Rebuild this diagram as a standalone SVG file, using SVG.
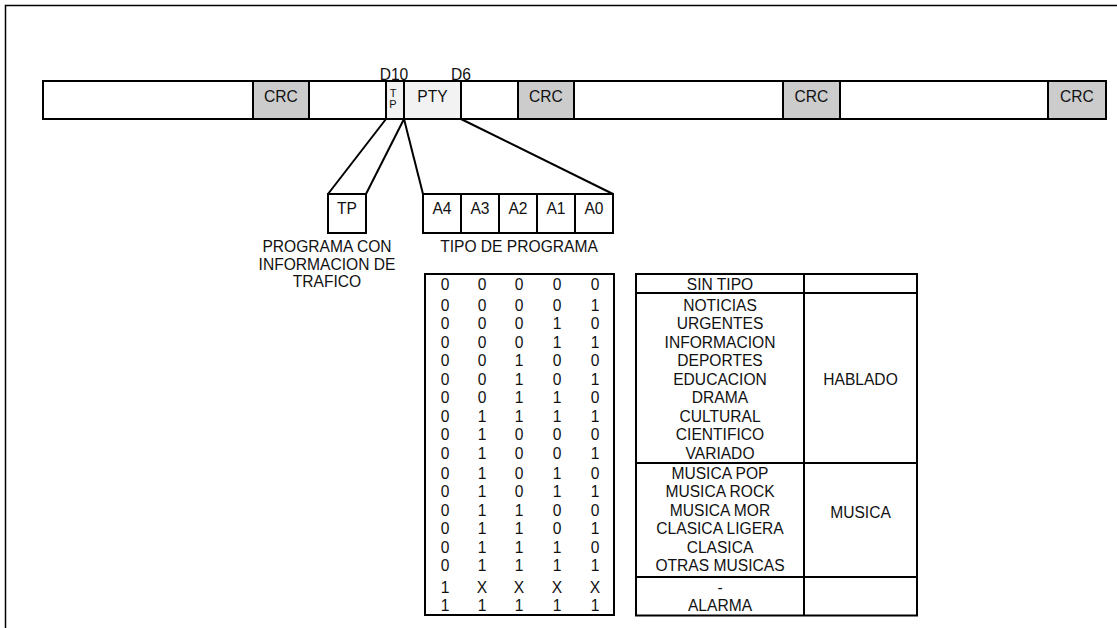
<svg xmlns="http://www.w3.org/2000/svg" width="1117" height="628" viewBox="0 0 1117 628">
<style>
text{font-family:"Liberation Sans",Arial,sans-serif;font-size:15.6px;fill:#111;text-anchor:middle}
.sm{font-size:11px}
.box{fill:#fff;stroke:#000;stroke-width:2}
.crc{fill:#cccccc;stroke:#000;stroke-width:2}
.lt{fill:#f2f2f2;stroke:#000;stroke-width:2}
.ln{stroke:#000;stroke-width:2;fill:none}
</style>
<rect x="0" y="0" width="1117" height="628" fill="#fff"/>
<g id="frame"><rect x="5.5" y="5.5" width="1200" height="700" fill="none" stroke="#000" stroke-width="1.5"/></g>
<g id="bar">
<rect class="box" x="43" y="81" width="1063" height="38"/>
<rect class="crc" x="253" y="81" width="56" height="38"/>
<rect class="lt" x="386" y="81" width="18" height="38"/>
<rect class="lt" x="404" y="81" width="57" height="38"/>
<rect class="crc" x="518" y="81" width="56" height="38"/>
<rect class="crc" x="783" y="81" width="57" height="38"/>
<rect class="crc" x="1048" y="81" width="58" height="38"/>
<text x="281" y="101.5">CRC</text>
<text x="546" y="101.5">CRC</text>
<text x="811.5" y="101.5">CRC</text>
<text x="1077" y="101.5">CRC</text>
<text x="432.5" y="101.5">PTY</text>
<text class="sm" x="393" y="96.5">T</text>
<text class="sm" x="393" y="107.5">P</text>
<text x="394" y="80">D10</text>
<text x="461" y="80">D6</text>
</g>
<g id="connectors">
<line class="ln" x1="386" y1="119" x2="328" y2="194"/>
<line class="ln" x1="404" y1="119" x2="366" y2="194"/>
<line class="ln" x1="404" y1="119" x2="423" y2="194"/>
<line class="ln" x1="461" y1="119" x2="613" y2="194"/>
</g>
<g id="tp">
<rect class="box" x="328" y="194" width="38" height="39"/>
<text x="347" y="214">TP</text>
<text x="327" y="252">PROGRAMA CON</text>
<text x="327" y="269.5">INFORMACION DE</text>
<text x="327" y="287">TRAFICO</text>
</g>
<g id="pty">
<rect class="box" x="423" y="194" width="38" height="39"/>
<rect class="box" x="461" y="194" width="38" height="39"/>
<rect class="box" x="499" y="194" width="38" height="39"/>
<rect class="box" x="537" y="194" width="38" height="39"/>
<rect class="box" x="575" y="194" width="38" height="39"/>
<text x="442" y="214">A4</text>
<text x="480" y="214">A3</text>
<text x="518" y="214">A2</text>
<text x="556" y="214">A1</text>
<text x="594" y="214">A0</text>
<text x="519" y="252">TIPO DE PROGRAMA</text>
</g>
<g id="codes">
<rect class="box" x="425" y="274" width="189" height="341"/>
<g>
<text x="445" y="289.5">0</text><text x="482" y="289.5">0</text><text x="519" y="289.5">0</text><text x="557" y="289.5">0</text><text x="595" y="289.5">0</text>
<text x="445" y="310.5">0</text><text x="482" y="310.5">0</text><text x="519" y="310.5">0</text><text x="557" y="310.5">0</text><text x="595" y="310.5">1</text>
<text x="445" y="329">0</text><text x="482" y="329">0</text><text x="519" y="329">0</text><text x="557" y="329">1</text><text x="595" y="329">0</text>
<text x="445" y="347.5">0</text><text x="482" y="347.5">0</text><text x="519" y="347.5">0</text><text x="557" y="347.5">1</text><text x="595" y="347.5">1</text>
<text x="445" y="366">0</text><text x="482" y="366">0</text><text x="519" y="366">1</text><text x="557" y="366">0</text><text x="595" y="366">0</text>
<text x="445" y="384.5">0</text><text x="482" y="384.5">0</text><text x="519" y="384.5">1</text><text x="557" y="384.5">0</text><text x="595" y="384.5">1</text>
<text x="445" y="403">0</text><text x="482" y="403">0</text><text x="519" y="403">1</text><text x="557" y="403">1</text><text x="595" y="403">0</text>
<text x="445" y="421.5">0</text><text x="482" y="421.5">1</text><text x="519" y="421.5">1</text><text x="557" y="421.5">1</text><text x="595" y="421.5">1</text>
<text x="445" y="440">0</text><text x="482" y="440">1</text><text x="519" y="440">0</text><text x="557" y="440">0</text><text x="595" y="440">0</text>
<text x="445" y="458.5">0</text><text x="482" y="458.5">1</text><text x="519" y="458.5">0</text><text x="557" y="458.5">0</text><text x="595" y="458.5">1</text>
<text x="445" y="478.5">0</text><text x="482" y="478.5">1</text><text x="519" y="478.5">0</text><text x="557" y="478.5">1</text><text x="595" y="478.5">0</text>
<text x="445" y="497">0</text><text x="482" y="497">1</text><text x="519" y="497">0</text><text x="557" y="497">1</text><text x="595" y="497">1</text>
<text x="445" y="515.5">0</text><text x="482" y="515.5">1</text><text x="519" y="515.5">1</text><text x="557" y="515.5">0</text><text x="595" y="515.5">0</text>
<text x="445" y="534">0</text><text x="482" y="534">1</text><text x="519" y="534">1</text><text x="557" y="534">0</text><text x="595" y="534">1</text>
<text x="445" y="552.5">0</text><text x="482" y="552.5">1</text><text x="519" y="552.5">1</text><text x="557" y="552.5">1</text><text x="595" y="552.5">0</text>
<text x="445" y="571">0</text><text x="482" y="571">1</text><text x="519" y="571">1</text><text x="557" y="571">1</text><text x="595" y="571">1</text>
<text x="445" y="592.5">1</text><text x="482" y="592.5">X</text><text x="519" y="592.5">X</text><text x="557" y="592.5">X</text><text x="595" y="592.5">X</text>
<text x="445" y="611">1</text><text x="482" y="611">1</text><text x="519" y="611">1</text><text x="557" y="611">1</text><text x="595" y="611">1</text>
</g>
</g>
<g id="types">
<rect class="box" x="636" y="274" width="281" height="341.5"/>
<line class="ln" x1="804" y1="274" x2="804" y2="615.5"/>
<line class="ln" x1="636" y1="293" x2="917" y2="293"/>
<line class="ln" x1="636" y1="463" x2="917" y2="463"/>
<line class="ln" x1="636" y1="577" x2="917" y2="577"/>
<text x="720" y="289.5">SIN TIPO</text>
<text x="720" y="310.5">NOTICIAS</text>
<text x="720" y="329">URGENTES</text>
<text x="720" y="347.5">INFORMACION</text>
<text x="720" y="366">DEPORTES</text>
<text x="720" y="384.5">EDUCACION</text>
<text x="720" y="403">DRAMA</text>
<text x="720" y="421.5">CULTURAL</text>
<text x="720" y="440">CIENTIFICO</text>
<text x="720" y="458.5">VARIADO</text>
<text x="720" y="478.5">MUSICA POP</text>
<text x="720" y="497">MUSICA ROCK</text>
<text x="720" y="515.5">MUSICA MOR</text>
<text x="720" y="534">CLASICA LIGERA</text>
<text x="720" y="552.5">CLASICA</text>
<text x="720" y="571">OTRAS MUSICAS</text>
<text x="720" y="592.5">-</text>
<text x="720" y="611">ALARMA</text>
<text x="860.5" y="384.5">HABLADO</text>
<text x="860.5" y="517.5">MUSICA</text>
</g>
</svg>
